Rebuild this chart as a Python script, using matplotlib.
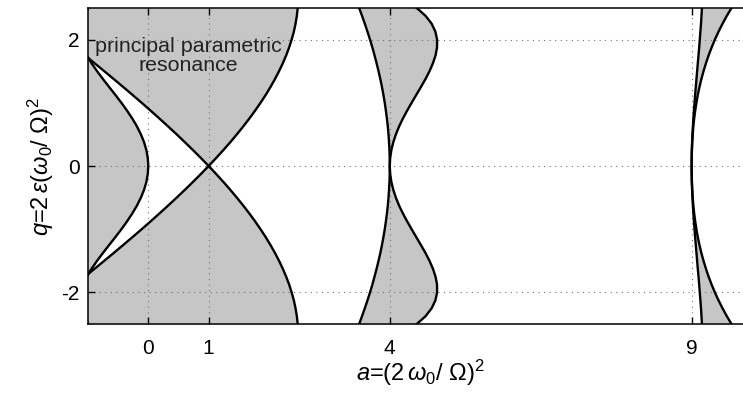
import numpy as np
import matplotlib
matplotlib.use("Agg")
import matplotlib.pyplot as plt

plt.rcParams['font.family'] = ['Liberation Sans', 'DejaVu Sans']
plt.rcParams['mathtext.fontset'] = 'custom'
plt.rcParams['mathtext.rm'] = 'Liberation Sans'
plt.rcParams['mathtext.it'] = 'Liberation Sans:italic'
plt.rcParams['mathtext.bf'] = 'Liberation Sans:bold'

# boundary curves, upper half (q >= 0); lower half is the mirror image
q_half = [0, 0.125, 0.25, 0.375, 0.5, 0.625, 0.75, 0.875, 1.0, 1.125, 1.25,
          1.375, 1.5, 1.625, 1.75, 1.875, 2.0, 2.125, 2.25, 2.375, 2.5]
a0_half = [0, -0.008, -0.031, -0.069, -0.122, -0.187, -0.264, -0.351, -0.445, -0.545, -0.648,
           -0.750, -0.848, -0.939, -1.018, -1.082, -1.125, -1.143, -1.130, -1.080, -0.989]
b1_half = [1, 0.873, 0.742, 0.608, 0.471, 0.330, 0.186, 0.040, -0.109, -0.261, -0.415,
           -0.571, -0.729, -0.888, -1.049, -1.212, -1.375, -1.540, -1.705, -1.871, -2.037]
a1_half = [1, 1.123, 1.242, 1.357, 1.467, 1.572, 1.673, 1.769, 1.859, 1.945, 2.024,
           2.098, 2.166, 2.228, 2.284, 2.333, 2.375, 2.411, 2.439, 2.461, 2.475]
b2_half = [4, 3.999, 3.995, 3.988, 3.979, 3.968, 3.953, 3.936, 3.917, 3.895, 3.871,
           3.844, 3.814, 3.782, 3.748, 3.712, 3.673, 3.631, 3.587, 3.541, 3.493]
a2_half = [4, 4.007, 4.026, 4.058, 4.101, 4.154, 4.217, 4.287, 4.362, 4.439, 4.516,
           4.591, 4.658, 4.715, 4.758, 4.783, 4.784, 4.756, 4.695, 4.594, 4.448]
b3_half = [9, 9.001, 9.004, 9.008, 9.014, 9.021, 9.029, 9.038, 9.048, 9.058, 9.069,
           9.080, 9.091, 9.102, 9.114, 9.125, 9.135, 9.145, 9.155, 9.163, 9.171]
a3_half = [9, 9.001, 9.004, 9.010, 9.018, 9.028, 9.042, 9.059, 9.079, 9.102, 9.130,
           9.161, 9.197, 9.237, 9.281, 9.331, 9.385, 9.445, 9.511, 9.582, 9.660]

x_ticks = [0, 1, 4, 9]
y_ticks = [-2, 0, 2]
y_ticklabels = ['-2', '0', '2']


# Mirror a half curve to the full q range
def mirror(lower, upper):
    return np.concatenate([np.array(lower)[::-1], np.array(upper)[1:]])


q = mirror(-np.array(q_half), q_half)
a0 = mirror(a0_half, a0_half)
b1 = mirror(a1_half, b1_half)
a1 = mirror(b1_half, a1_half)
b2 = mirror(b2_half, b2_half)
a2 = mirror(a2_half, a2_half)
b3 = mirror(a3_half, b3_half)
a3 = mirror(b3_half, a3_half)

gray = '#c6c6c6'
fig = plt.figure(figsize=(7.43, 3.99), dpi=100)
ax = fig.add_axes([87.9 / 743, 75 / 399, (752 - 87.9) / 743, 316 / 399])

# unstable regions
ax.fill_betweenx(q, -3, a0, color=gray, lw=0, zorder=1)
ax.fill_betweenx(q, b1, a1, color=gray, lw=0, zorder=1)
ax.fill_betweenx(q, b2, a2, color=gray, lw=0, zorder=1)
ax.fill_betweenx(q, b3, a3, color=gray, lw=0, zorder=1)

# transition curves
for curve in [a0, b1, a1, b2, a2, b3, a3]:
    ax.plot(curve, q, color='black', lw=1.7, zorder=3)

ax.text(0.67, 1.74, 'principal parametric\nresonance', ha='center', va='center',
        fontsize=15.4, color='#222222', linespacing=0.95, zorder=4)

ax.set_xlim(-1, 10)
ax.set_ylim(-2.5, 2.5)
ax.set_xticks(x_ticks)
ax.set_yticks(y_ticks)
ax.set_yticklabels(y_ticklabels)
ax.grid(True, ls=(0, (1, 4)), color='0.45', lw=0.8)
ax.set_axisbelow(False)
ax.tick_params(direction='in', length=5, width=1, top=True, right=True, labelsize=15)
ax.tick_params(axis='x', pad=11)
ax.tick_params(axis='y', pad=6)
for s in ax.spines.values():
    s.set_linewidth(1.1)

ax.set_xlabel(r'$a$=(2$\,\omega_0$/ $\Omega$)$^2$', fontsize=17, labelpad=0)
ax.set_ylabel(r'$q$=2$\,\varepsilon$($\omega_0$/ $\Omega$)$^2$', fontsize=17, labelpad=4)

fig.savefig('out.png', dpi=100)
